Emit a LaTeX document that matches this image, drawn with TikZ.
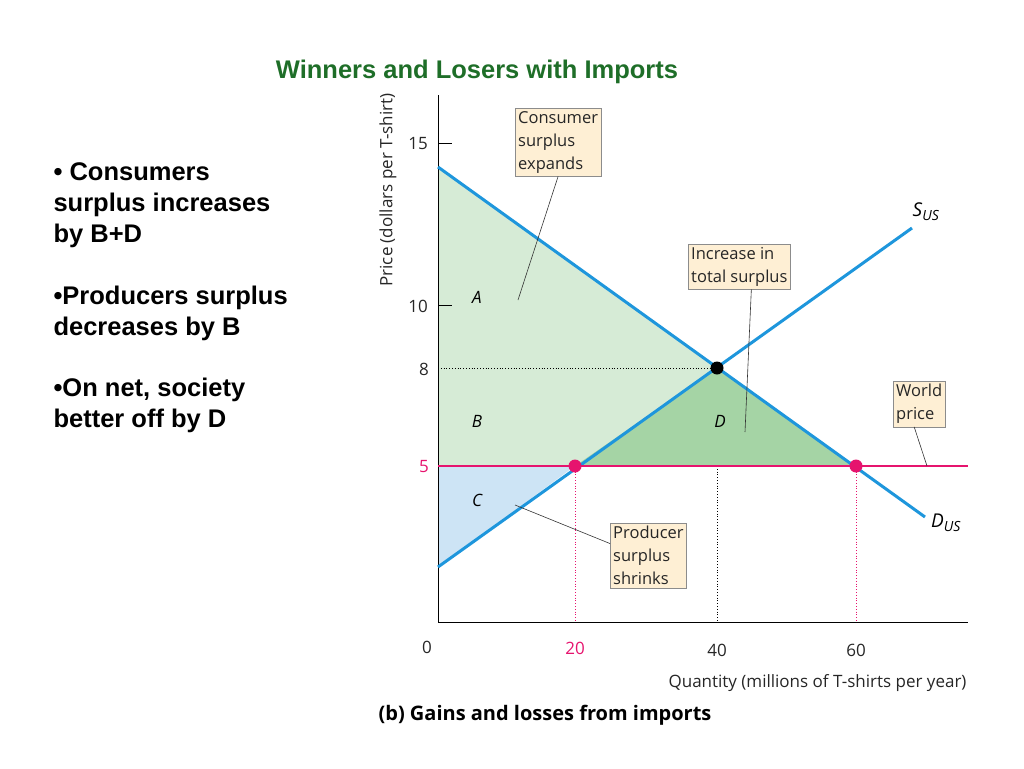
\documentclass[tikz,border=0pt]{standalone}
\usepackage{fontspec}
\setmainfont{Liberation Sans}
\newfontfamily\fig{Open Sans}
\begin{document}
\begin{tikzpicture}[x=1pt,y=-1pt,
  lbl/.style={font=\fig\fontsize{17}{20}\selectfont,text=black!85},
  callout/.style={draw=black!45,fill=yellow!25!orange!15,align=left,inner sep=3pt,font=\fig\fontsize{16.5}{23}\selectfont,text=black!85},
  area/.style={font=\fig\itshape\fontsize{17}{20}\selectfont},
  ptr/.style={draw=black!80,line width=0.6pt},
  bullet/.style={font=\bfseries\fontsize{25.5}{31}\selectfont,align=left,anchor=north west}]
\useasboundingbox (0,0) rectangle (1024,768);
\definecolor{lg}{RGB}{214,235,214}
\definecolor{dg}{RGB}{165,212,165}
\definecolor{lb}{RGB}{205,228,245}
\definecolor{mag}{RGB}{230,20,110}
\definecolor{blu}{RGB}{30,150,220}
\definecolor{ttl}{RGB}{30,110,40}
\fill[lg] (438,167) -- (856,466) -- (438,466) -- cycle;
\fill[dg] (575,466) -- (717,368) -- (856,466) -- cycle;
\fill[lb] (438,466) -- (575,466) -- (438,567) -- cycle;
% axes
\coordinate (o) at (438,622);
\draw[line width=0.8pt] (438,95) -- (o) -- (968,622);
\draw (438,143) -- (452,143);
\draw (438,305) -- (452,305);
% dotted
\draw[dotted,thick] (438,368) -- (717,368);
\draw[dotted,thick] (717,466) -- (717,622);
\draw[dotted,thick,mag] (575,466) -- (575,622);
\draw[dotted,thick,mag] (856,466) -- (856,622);
% curves
\draw[blu,line width=3pt] (438,167) -- (925,517);
\draw[blu,line width=3pt] (438,567) -- (912,228);
\draw[mag,line width=1.5pt] (438,466) -- (968,466);
\fill (717,368) circle (6.5);
\fill[mag] (575,466) circle (6.5);
\fill[mag] (856,466) circle (6.5);
% callouts
\node[callout,anchor=north west] (cs) at (515,108) {Consumer\\surplus\\expands};
\node[callout,anchor=north west] (it) at (688,244) {Increase in\\total surplus};
\node[callout,anchor=north west] (wp) at (893,381) {World\\price};
\node[callout,anchor=north west] (ps) at (610,523) {Producer\\surplus\\shrinks};
\coordinate (ca) at (518,300);
\coordinate (ia) at (745,432);
\coordinate (wa) at (927,466);
\coordinate (pa) at (515,505);
\draw[ptr] (cs.south) -- (ca);
\draw[ptr] (it.south) ++(12,0) -- (ia);
\draw[ptr] (wp.south) ++(-5,0) -- (wa);
\draw[ptr] (ps.west) ++(0,-12) -- (pa);
% area labels
\node[area] (A) at (477,297) {A};
\node[area] (B) at (477,421) {B};
\node[area] (C) at (477,500) {C};
\node[area] (D) at (720,421) {D};
\node[font=\fig\itshape\fontsize{19}{20}\selectfont] (S) at (926,212) {S\textsubscript{\fontsize{14}{15}\selectfont US}};
\node[font=\fig\itshape\fontsize{19}{20}\selectfont] (Dl) at (946,523) {D\textsubscript{\fontsize{14}{15}\selectfont US}};
% tick labels
\node[lbl] at (418,144) {15};
\node[lbl] at (418,306) {10};
\node[lbl] at (424,369) {8};
\node[lbl,text=mag] at (424,467) {5};
\node[lbl] at (427,647) {0};
\node[lbl,text=mag] at (575,648) {20};
\node[lbl] at (717,650) {40};
\node[lbl] at (856,650) {60};
\node[lbl,rotate=90] at (388,190) {Price (dollars per T-shirt)};
\node[lbl,anchor=east] at (970,683) {Quantity (millions of T-shirts per year)};
\node[font=\fig\bfseries\fontsize{20}{22}\selectfont] at (545,715) {(b) Gains and losses from imports};
% title and text
\node[font=\bfseries\fontsize{25.5}{28}\selectfont,text=ttl] at (477,72) {Winners and Losers with Imports};
\node[bullet] at (50,159) {\textbullet{} Consumers\\surplus increases\\by B+D};
\node[bullet] at (50,282) {\textbullet Producers surplus\\decreases by B};
\node[bullet] at (50,374) {\textbullet On net, society\\better off by D};
\end{tikzpicture}
\end{document}
